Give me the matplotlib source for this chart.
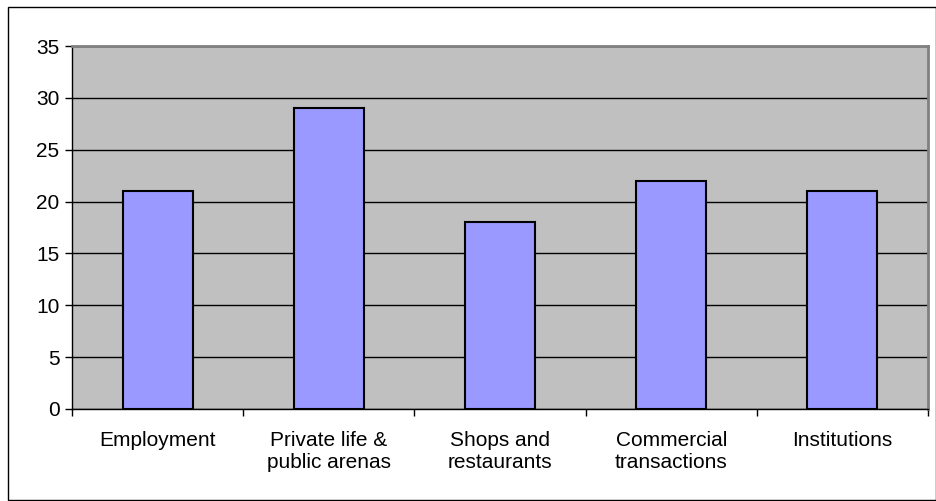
import matplotlib
matplotlib.use("Agg")
import matplotlib.pyplot as plt
from matplotlib.patches import Rectangle
import numpy as np

categories = ["Employment", "Private life &\npublic arenas", "Shops and\nrestaurants",
              "Commercial\ntransactions", "Institutions"]
values = [21, 29, 18, 22, 21]
y_ticks = [0, 5, 10, 15, 20, 25, 30, 35]

plt.rcParams['font.family'] = ['Liberation Sans', 'DejaVu Sans']

fig = plt.figure(figsize=(9.37, 5.01), dpi=100)
ax = fig.add_axes([72/937, 92/501, 856/937, 363/501])

x = np.arange(len(categories))
ax.set_facecolor('#C0C0C0')
ax.yaxis.grid(True, color='black', linewidth=1)
ax.set_axisbelow(True)
ax.bar(x, values, width=0.41, color='#9999FF', edgecolor='black', linewidth=1.5, zorder=3)

ax.set_xlim(-0.5, len(categories) - 0.5)
ax.set_ylim(0, 35)
ax.set_yticks(y_ticks)
ax.tick_params(axis='y', direction='out', length=5, width=1, labelsize=15, pad=4)

ax.set_xticks(x)
ax.set_xticklabels(categories, fontsize=15, linespacing=1.2)
ax.set_xticks(np.arange(len(categories) + 1) - 0.5, minor=True)
ax.tick_params(axis='x', which='major', length=0, pad=16)
ax.tick_params(axis='x', which='minor', direction='out', length=5, width=1)

for side in ['top', 'right']:
    ax.spines[side].set_color('#808080')
    ax.spines[side].set_linewidth(2)
for side in ['left', 'bottom']:
    ax.spines[side].set_color('black')
    ax.spines[side].set_linewidth(1)

# outer chart border
fig.patches.append(Rectangle((8/937, 1/501), 928/937, 493/501, transform=fig.transFigure,
                             fill=False, edgecolor='black', linewidth=1))

fig.savefig("out.png", dpi=100)
